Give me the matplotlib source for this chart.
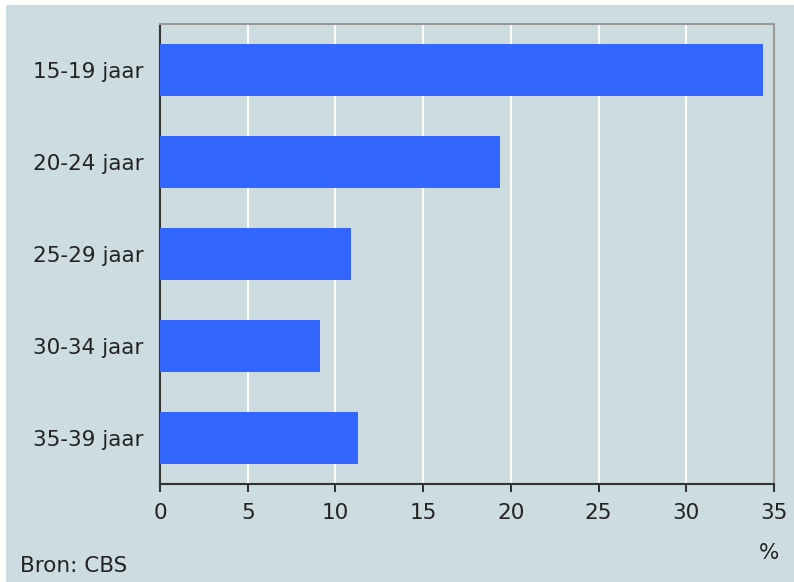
import matplotlib.pyplot as plt
from matplotlib.patches import Rectangle

categories = ["15-19 jaar", "20-24 jaar", "25-29 jaar", "30-34 jaar", "35-39 jaar"]
values = [34.4, 19.4, 10.9, 9.1, 11.3]
xticks = [0, 5, 10, 15, 20, 25, 30, 35]

bg = "#cddce0"
bar_color = "#3366ff"

fig = plt.figure(figsize=(7.94, 5.82), dpi=100)
fig.patch.set_facecolor("white")
# light panel behind everything, leaving a thin white strip top and left
fig.patches.append(Rectangle((6 / 794, 0), 1, 1 - 5 / 582, transform=fig.transFigure,
                             facecolor=bg, edgecolor="none", zorder=-10))

ax = fig.add_axes([160 / 794, 98 / 582, 614 / 794, 460 / 582])
ax.set_facecolor(bg)

ypos = list(range(len(categories)))
ax.barh(ypos, values, height=0.565, color=bar_color, zorder=3)
ax.set_yticks(ypos)
ax.set_yticklabels(categories)
ax.set_ylim(4.5, -0.5)
ax.set_xlim(0, 35)
ax.set_xticks(xticks)

ax.grid(axis="x", color="white", linewidth=1.5, zorder=1)
ax.set_axisbelow(True)

for side in ["top", "right"]:
    ax.spines[side].set_color("#999999")
    ax.spines[side].set_linewidth(1.5)
for side in ["left", "bottom"]:
    ax.spines[side].set_color("#333333")
    ax.spines[side].set_linewidth(1.5)

ax.tick_params(axis="y", length=0, pad=12, labelsize=15.5, labelcolor="#222222")
ax.tick_params(axis="x", length=6, width=1.5, color="#333333", pad=8,
               labelsize=15.5, labelcolor="#222222")

fig.text(769 / 794, 1 - 553 / 582, "%", fontsize=15.5, color="#222222",
         ha="center", va="center")
fig.text(20 / 794, 1 - 566 / 582, "Bron: CBS", fontsize=15.5, color="#222222",
         ha="left", va="center")

fig.savefig("out.png", dpi=100)
